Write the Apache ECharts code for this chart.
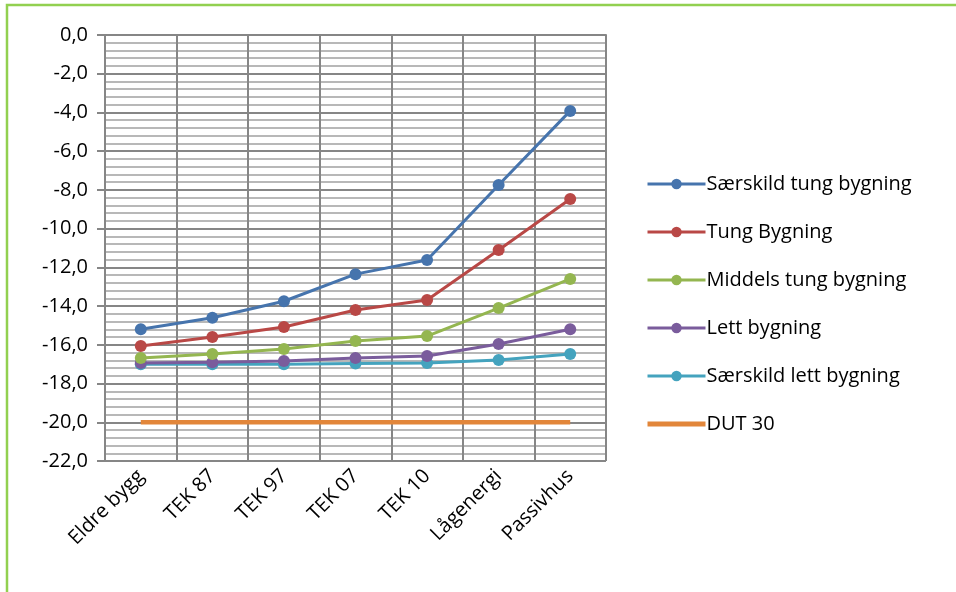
<!DOCTYPE html>
<html><head><meta charset="utf-8">
<script src="https://cdn.jsdelivr.net/npm/echarts@6/dist/echarts.min.js"></script>
<style>html,body{margin:0;padding:0;background:#fff}#c{width:956px;height:592px}</style>
</head><body><div id="c"></div>
<script>
const categories = ['Eldre bygg','TEK 87','TEK 97','TEK 07','TEK 10','Lågenergi','Passivhus'];
const saerskildTung = [-15.2,-14.6,-13.75,-12.35,-11.62,-7.75,-3.92];
const tungBygning = [-16.06,-15.6,-15.08,-14.2,-13.69,-11.1,-8.47];
const middelsTung = [-16.68,-16.48,-16.22,-15.8,-15.55,-14.1,-12.6];
const lettBygning = [-16.94,-16.9,-16.84,-16.68,-16.58,-15.96,-15.2];
const saerskildLett = [-17.0,-17.0,-17.0,-16.97,-16.94,-16.79,-16.48];
const dut30 = [-20,-20,-20,-20,-20,-20,-20];
const names = ['Særskild tung bygning','Tung Bygning','Middels tung bygning','Lett bygning','Særskild lett bygning','DUT 30'];
const colors = ['#4674AD','#B94846','#94B650','#7A5C9C','#44A3BE','#E2863A'];
const seriesData = [saerskildTung,tungBygning,middelsTung,lettBygning,saerskildLett,dut30];
const font = '"Open Sans", "Liberation Sans", sans-serif';

const chart = echarts.init(document.getElementById('c'));
chart.setOption({
  animation:false,
  color: colors,
  graphic:[{type:'rect',shape:{x:7,y:5,width:960,height:600},style:{fill:'none',stroke:'#92D050',lineWidth:2.5},silent:true}],
  grid:{left:105,right:350,top:35,bottom:131,containLabel:false},
  legend:{orient:'vertical',left:641,top:169,itemWidth:58,itemHeight:13,itemGap:28,
    lineStyle:{width:3},
    textStyle:{fontFamily:font,fontSize:20,color:'#000',padding:[0,0,0,-4]},
    data:names.map((n,i)=> i===5 ? {name:n,icon:'path://M0,0 H58 V5 H0 Z'} : {name:n})},
  xAxis:{type:'category',data:categories,boundaryGap:true,
    axisLine:{lineStyle:{color:'#868686',width:2}},
    axisTick:{show:true,length:6,lineStyle:{color:'#868686',width:2}},
    splitLine:{show:true,lineStyle:{color:'#868686',width:2}},
    axisLabel:{rotate:45,fontFamily:font,fontSize:20,color:'#000',margin:12}},
  yAxis:{type:'value',min:-22,max:0,interval:2,
    axisLine:{show:true,lineStyle:{color:'#868686',width:2}},
    axisTick:{show:true,length:8,lineStyle:{color:'#868686',width:2}},
    splitLine:{show:true,lineStyle:{color:'#868686',width:2}},
    minorTick:{show:false,splitNumber:5},
    minorSplitLine:{show:true,lineStyle:{color:'#B8B8B8',width:2}},
    axisLabel:{fontFamily:font,fontSize:20,color:'#000',margin:17,
      formatter:v=>v.toFixed(1).replace('.',',')}},
  series: seriesData.map((d,i)=>({
    name:names[i],type:'line',data:d,
    symbol: i===5?'none':'circle',symbolSize:12,showSymbol:i!==5,
    lineStyle:{width: i===5?4.5:3,color:colors[i]},
    itemStyle:{color:colors[i]},
    z: 10-i
  }))
});
</script></body></html>
